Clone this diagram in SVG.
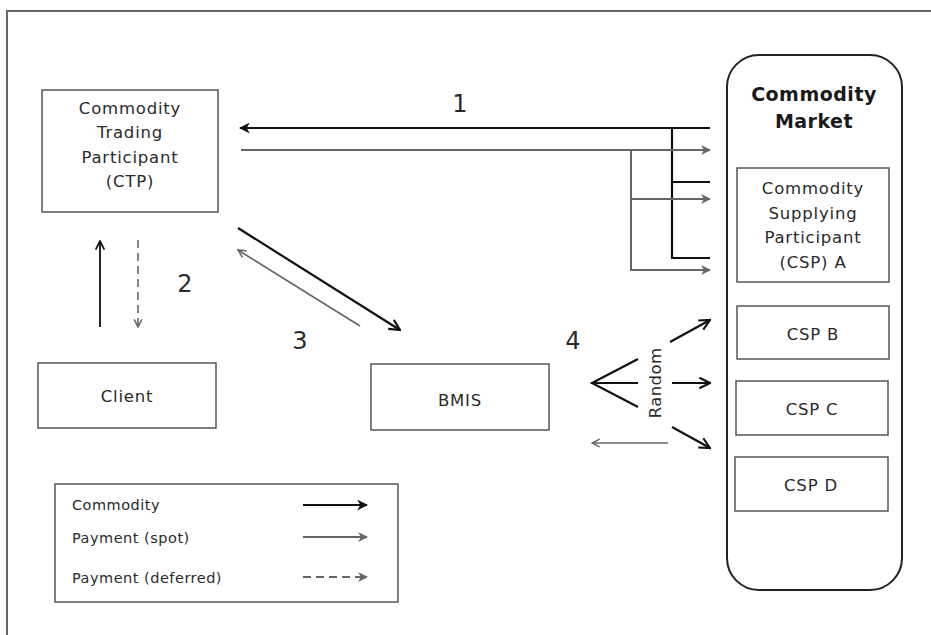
<svg xmlns="http://www.w3.org/2000/svg" width="931" height="635" viewBox="0 0 931 635">
<style>
.box{fill:#fff;stroke:#555;stroke-width:1.5}
.t{font-family:"DejaVu Sans",Verdana,sans-serif;font-size:16.5px;fill:#2a2a2a;text-anchor:middle;letter-spacing:0.8px}
.lg{font-family:"DejaVu Sans",Verdana,sans-serif;font-size:14.5px;fill:#2a2a2a;letter-spacing:0.5px}
.num{font-family:"DejaVu Sans",Verdana,sans-serif;font-size:24px;fill:#2a2a2a;text-anchor:middle}
.mk{font-family:"DejaVu Sans",Verdana,sans-serif;font-size:19px;font-weight:bold;fill:#1a1a1a;text-anchor:middle;letter-spacing:0.5px}
.com{fill:none;stroke:#111;stroke-width:2.2}
.pay{fill:none;stroke:#666;stroke-width:2}
.def{fill:none;stroke:#666;stroke-width:2;stroke-dasharray:8 5}
</style>
<defs>
<marker id="ah" viewBox="0 0 10 10" refX="9" refY="5" markerWidth="5" markerHeight="5" orient="auto" markerUnits="strokeWidth"><path d="M0,0 L10,5 L0,10 L3,5 Z" fill="#111"/></marker>
<marker id="ahg" viewBox="0 0 10 10" refX="9" refY="5" markerWidth="5" markerHeight="5" orient="auto" markerUnits="strokeWidth"><path d="M0,0 L10,5 L0,10 L3,5 Z" fill="#666"/></marker>
<marker id="ao" viewBox="0 0 10 10" refX="9" refY="5" markerWidth="6" markerHeight="6" orient="auto" markerUnits="strokeWidth"><path d="M1,1 L9,5 L1,9" fill="none" stroke="#111" stroke-width="1.6"/></marker>
<marker id="aog" viewBox="0 0 10 10" refX="9" refY="5" markerWidth="6" markerHeight="6" orient="auto" markerUnits="strokeWidth"><path d="M1,1 L9,5 L1,9" fill="none" stroke="#666" stroke-width="1.6"/></marker>
</defs>
<rect width="931" height="635" fill="#fff"/>
<path d="M7,635 V11 H931" fill="none" stroke="#666" stroke-width="2"/>

<g id="ctp"><rect class="box" x="42" y="90" width="176" height="122"/>
<text class="t" x="130" y="114">Commodity</text><text class="t" x="130" y="138">Trading</text><text class="t" x="130" y="163">Participant</text><text class="t" x="130" y="187">(CTP)</text></g>

<g id="market"><rect x="727" y="55" width="175" height="535" rx="32" fill="#fff" stroke="#222" stroke-width="2"/>
<text class="mk" x="814" y="101">Commodity</text>
<text class="mk" x="814" y="128">Market</text></g>

<g id="cspA"><rect class="box" x="737" y="168" width="152" height="114"/>
<text class="t" x="813" y="194">Commodity</text><text class="t" x="813" y="219">Supplying</text><text class="t" x="813" y="243">Participant</text><text class="t" x="813" y="268">(CSP) A</text></g>
<g id="cspB"><rect class="box" x="737" y="306" width="152" height="53"/><text class="t" x="813" y="340">CSP B</text></g>
<g id="cspC"><rect class="box" x="736" y="381" width="152" height="54"/><text class="t" x="812" y="415">CSP C</text></g>
<g id="cspD"><rect class="box" x="735" y="457" width="153" height="54"/><text class="t" x="811" y="491">CSP D</text></g>

<g id="client"><rect class="box" x="38" y="363" width="178" height="65"/><text class="t" x="127" y="402">Client</text></g>
<g id="bmis"><rect class="box" x="371" y="364" width="178" height="66"/><text class="t" x="460" y="406">BMIS</text></g>

<g id="legend"><rect class="box" x="55" y="484" width="343" height="118"/>
<text class="lg" x="72" y="510">Commodity</text>
<text class="lg" x="72" y="543">Payment (spot)</text>
<text class="lg" x="72" y="583">Payment (deferred)</text>
<line class="com" x1="303" y1="505" x2="367" y2="505" marker-end="url(#ah)"/>
<line class="pay" x1="303" y1="537" x2="367" y2="537" marker-end="url(#ahg)"/>
<line class="def" x1="303" y1="577" x2="367" y2="577" marker-end="url(#ahg)"/></g>

<g id="labels">
<text class="num" x="460" y="112">1</text>
<text class="num" x="185" y="292">2</text>
<text class="num" x="300" y="349">3</text>
<text class="num" x="573" y="349">4</text>
<text class="t" transform="translate(661,383) rotate(-90)" style="letter-spacing:0.4px">Random</text>
</g>

<g id="connectors">
<line class="com" x1="710" y1="128" x2="240" y2="128" marker-end="url(#ah)"/>
<path class="com" d="M672,128 V258 H710 M672,182 H710"/>
<line class="pay" x1="241" y1="150" x2="710" y2="150" marker-end="url(#ahg)"/>
<path class="pay" d="M631,150 V270 H710" marker-end="url(#ahg)"/>
<line class="pay" x1="631" y1="199" x2="710" y2="199" marker-end="url(#ahg)"/>
<line class="com" x1="100" y1="327" x2="100" y2="241" marker-end="url(#ao)" style="stroke-width:1.8"/>
<line class="def" x1="138" y1="240" x2="138" y2="327" marker-end="url(#aog)" style="stroke-width:1.6"/>
<line class="com" x1="238" y1="228" x2="400" y2="330" marker-end="url(#ao)"/>
<line class="pay" x1="360" y1="326" x2="238" y2="250" marker-end="url(#aog)" style="stroke-width:1.6"/>
<path class="com" d="M638,359 L592,383 L638,407 M592,383 H638"/>
<line class="com" x1="670" y1="342" x2="710" y2="320" marker-end="url(#ao)"/>
<line class="com" x1="672" y1="383" x2="710" y2="383" marker-end="url(#ao)"/>
<line class="com" x1="672" y1="427" x2="710" y2="448" marker-end="url(#ao)"/>
<line class="pay" x1="668" y1="443" x2="592" y2="443" marker-end="url(#aog)" style="stroke-width:1.6"/>
</g>
</svg>
